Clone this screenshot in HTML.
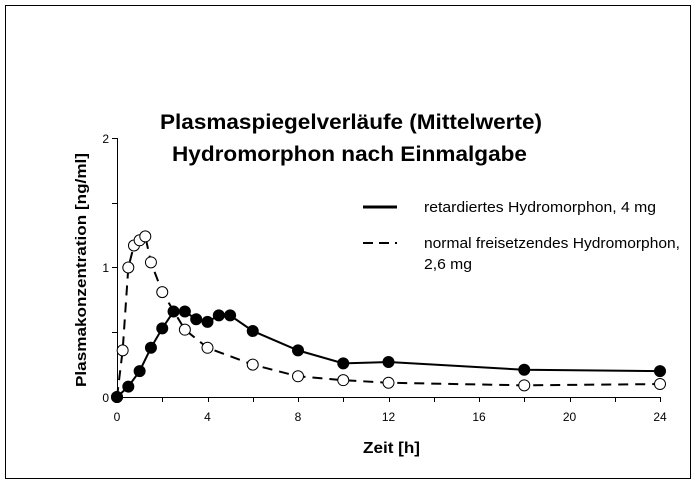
<!DOCTYPE html>
<html><head><meta charset="utf-8"><style>body{margin:0;background:#fff}</style></head><body>
<svg width="698" height="484" xmlns="http://www.w3.org/2000/svg" font-family="Liberation Sans, Arial, sans-serif">
<rect x="5.5" y="5.5" width="685" height="473" fill="none" stroke="#000" stroke-width="1"/>
<text x="160" y="129" font-size="21" font-weight="bold" textLength="382" lengthAdjust="spacingAndGlyphs">Plasmaspiegelverläufe (Mittelwerte)</text>
<text x="172" y="161" font-size="21" font-weight="bold" textLength="355" lengthAdjust="spacingAndGlyphs">Hydromorphon nach Einmalgabe</text>
<g stroke="#000" stroke-width="1">
<line x1="117.5" y1="138" x2="117.5" y2="397"/>
<line x1="117" y1="397.5" x2="661" y2="397.5"/>
<line x1="112" y1="138.5" x2="117" y2="138.5"/>
<line x1="112" y1="203.5" x2="117" y2="203.5"/>
<line x1="112" y1="267.5" x2="117" y2="267.5"/>
<line x1="112" y1="332.5" x2="117" y2="332.5"/>
<line x1="112" y1="397.5" x2="117" y2="397.5"/>
</g>
<g id="xt" stroke="#000"></g>
<g font-size="12" text-anchor="end"><text x="109" y="143">2</text><text x="109" y="272">1</text><text x="109" y="402">0</text></g>
<g font-size="12" text-anchor="middle" id="xl"></g>
<text x="363" y="453" font-size="16" font-weight="bold" textLength="57" lengthAdjust="spacingAndGlyphs">Zeit [h]</text>
<text transform="translate(86,387) rotate(-90)" font-size="15" font-weight="bold" textLength="234" lengthAdjust="spacingAndGlyphs">Plasmakonzentration [ng/ml]</text>
<line x1="363" y1="207" x2="397" y2="207" stroke="#000" stroke-width="3"/>
<line x1="363" y1="243" x2="397" y2="243" stroke="#000" stroke-width="2" stroke-dasharray="10,6"/>
<g font-size="15"><text x="424" y="212" textLength="232" lengthAdjust="spacingAndGlyphs">retardiertes Hydromorphon, 4 mg</text><text x="424" y="248" textLength="256" lengthAdjust="spacingAndGlyphs">normal freisetzendes Hydromorphon,</text><text x="424" y="269" textLength="48" lengthAdjust="spacingAndGlyphs">2,6 mg</text></g>
<g id="s"></g>
</svg>
<script>
var ns="http://www.w3.org/2000/svg";
function X(t){return 117+t*22.625}function Y(v){return 397-v*129.5}
var xt=document.getElementById('xt'),xl=document.getElementById('xl');
for(var t=0;t<=24;t+=2){var l=document.createElementNS(ns,'line');var x=Math.round(X(t))+.5;l.setAttribute('x1',x);l.setAttribute('x2',x);l.setAttribute('y1',397);l.setAttribute('y2',402);xt.appendChild(l);
if(t%4==0){var tx=document.createElementNS(ns,'text');tx.setAttribute('x',X(t));tx.setAttribute('y',421);tx.textContent=t;xl.appendChild(tx);}}
var A=[[0,0],[.5,.08],[1,.2],[1.5,.38],[2,.53],[2.5,.66],[3,.66],[3.5,.6],[4,.58],[4.5,.63],[5,.63],[6,.51],[8,.36],[10,.26],[12,.27],[18,.21],[24,.2]];
var B=[[0,0],[.25,.36],[.5,1.0],[.75,1.17],[1,1.21],[1.25,1.24],[1.5,1.04],[2,.81],[3,.52],[4,.38],[6,.25],[8,.16],[10,.13],[12,.11],[18,.09],[24,.1]];
var s=document.getElementById('s');
function line(d,dash){var p=document.createElementNS(ns,'polyline');p.setAttribute('points',d.map(function(a){return X(a[0])+','+Y(a[1])}).join(' '));p.setAttribute('fill','none');p.setAttribute('stroke','#000');p.setAttribute('stroke-width',2);if(dash)p.setAttribute('stroke-dasharray','10,7');s.appendChild(p);}
line(B,1);line(A,0);
function pts(d,f){d.forEach(function(a){var c=document.createElementNS(ns,'circle');c.setAttribute('cx',X(a[0]));c.setAttribute('cy',Y(a[1]));c.setAttribute('r',5.5);c.setAttribute('fill',f);c.setAttribute('stroke','#000');c.setAttribute('stroke-width',1);s.appendChild(c);});}
pts(B,'#fff');pts(A,'#000');
</script>
</body></html>
